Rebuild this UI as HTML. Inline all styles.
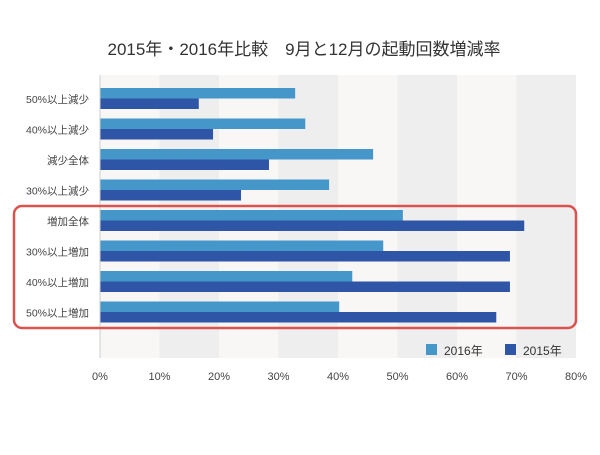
<!DOCTYPE html>
<html><head><meta charset="utf-8"><style>
body{margin:0;background:#fff;width:600px;height:450px;overflow:hidden}
text{font-family:"Liberation Sans","Noto Sans CJK JP",sans-serif}
</style></head><body>
<svg id="chart" width="600" height="450" xmlns="http://www.w3.org/2000/svg">
<text x="304" y="55" text-anchor="middle" font-size="17" fill="#333">2015年・2016年比較　9月と12月の起動回数増減率</text>
<g id="bands"></g><g id="bars"></g><g id="labels"></g><g id="ticks"></g>
<line x1="100" y1="75" x2="100" y2="358" stroke="#ccc" stroke-width="1"/>
<rect x="14" y="206" width="562" height="122" rx="8" fill="none" stroke="#d9534f" stroke-width="2.5"/>
<g>
<rect x="426" y="344" width="11" height="11" fill="#4596c9"/>
<text x="444" y="355" font-size="12" fill="#333">2016年</text>
<rect x="505" y="344" width="11" height="11" fill="#2e55a6"/>
<text x="523" y="355" font-size="12" fill="#333">2015年</text>
</g>
</svg>
<script>
const categories=["50%以上減少","40%以上減少","減少全体","30%以上減少","増加全体","30%以上増加","40%以上増加","50%以上増加"];
const values2016=[32.8,34.5,45.9,38.5,50.9,47.6,42.4,40.2];
const values2015=[16.6,19.0,28.4,23.7,71.3,68.9,68.9,66.6];
const tickLabels=["0%","10%","20%","30%","40%","50%","60%","70%","80%"];
const tickValues=[0,10,20,30,40,50,60,70,80];
const NS="http://www.w3.org/2000/svg";
const x0=100,pxPer=5.95,top0=75,bottom=358;
function xs(v){return x0+v*pxPer;}
function yc(i){return 99+i*30.5;}
function mk(tag,attrs,parent){const e=document.createElementNS(NS,tag);for(const k in attrs)e.setAttribute(k,attrs[k]);document.getElementById(parent).appendChild(e);return e;}
for(let i=0;i<tickValues.length-1;i++){
  const b=mk('rect',{x:xs(tickValues[i]),y:top0,width:xs(tickValues[i+1])-xs(tickValues[i]),height:bottom-top0,fill:i%2?'#eeeeee':'#f8f7f5'},'bands');
  
  
}
tickValues.forEach((v,i)=>{
  const t=mk('text',{x:xs(v),y:380,'text-anchor':'middle','font-size':'11',fill:'#444'},'ticks');
  t.textContent=tickLabels[i];
  
  
});
categories.forEach((c,i)=>{
  const y=yc(i);
  const a=mk('rect',{x:x0,y:y-11,width:xs(values2016[i])-x0,height:10.5,fill:'#4596c9'},'bars');
  
  
  const b=mk('rect',{x:x0,y:y-0.5,width:xs(values2015[i])-x0,height:10.5,fill:'#2e55a6'},'bars');
  
  
  const t=mk('text',{x:89,y:y+4,'text-anchor':'end','font-size':'10.5',fill:'#444'},'labels');
  t.textContent=c;
  
  
});
</script>
</body></html>
